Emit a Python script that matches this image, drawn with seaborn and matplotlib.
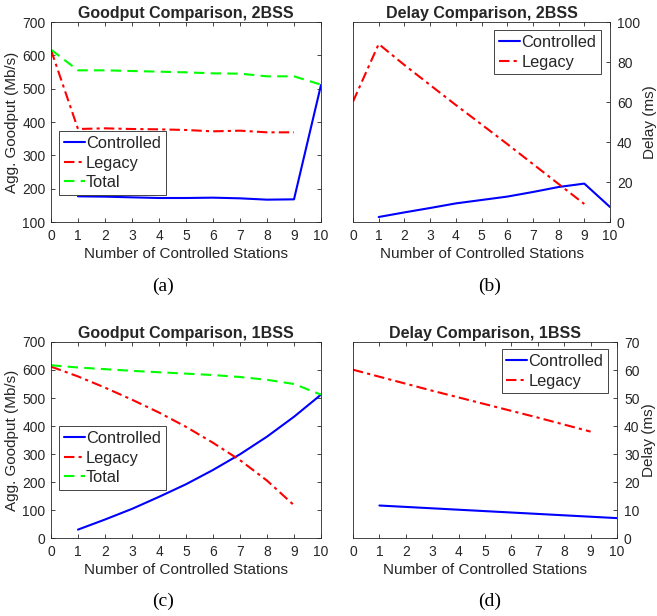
import numpy as np
import pandas as pd
import matplotlib
matplotlib.use("Agg")
import matplotlib.pyplot as plt
import seaborn as sns

sns.set_style("ticks")
plt.rcParams['font.family'] = ['Liberation Sans', 'DejaVu Sans']

# ---------------- data ----------------
stations = list(range(0, 11))
x_ctrl = list(range(1, 11))
x_leg = list(range(0, 10))

# (a) Goodput 2BSS
a_controlled = [177, 176, 174, 172, 172, 173, 171, 167, 168, 511]
a_legacy = [616, 379, 381, 379, 378, 376, 372, 374, 369, 369]
a_total = [617, 555, 555, 553, 551, 549, 546, 545, 537, 537, 512]

# (b) Delay 2BSS
b_controlled = [2.5, 4.8, 7.0, 9.3, 11.0, 12.7, 15.0, 17.5, 19.2, 7.5]
b_legacy = [60.2, 89.0, 78.5, 68.5, 58.5, 48.8, 39.0, 29.0, 19.0, 9.0]

# (c) Goodput 1BSS
c_controlled = [30, 66, 104, 147, 192, 243, 299, 362, 433, 512]
c_legacy = [612, 577, 537, 494, 448, 397, 340, 278, 205, 117]
c_total = [617, 609, 603, 597, 592, 587, 582, 575, 565, 550, 512]

# (d) Delay 1BSS
d_controlled = [11.6, 11.1, 10.6, 10.1, 9.6, 9.1, 8.6, 8.1, 7.6, 7.1]
d_legacy = [60.1, 57.6, 55.1, 52.6, 50.2, 47.8, 45.4, 43.0, 40.5, 38.0]

titles = ["Goodput Comparison, 2BSS", "Delay Comparison, 2BSS",
          "Goodput Comparison, 1BSS", "Delay Comparison, 1BSS"]
panel_labels = ["(a)", "(b)", "(c)", "(d)"]
xlabel = "Number of Controlled Stations"
goodput_label = "Agg. Goodput (Mb/s)"
delay_label = "Delay (ms)"
series_names = ["Controlled", "Legacy", "Total"]

BLUE = "#0000ff"
RED = "#ff0000"
GREEN = "#00ff00"
AXC = "#262626"

fig = plt.figure(figsize=(6.57, 6.16), dpi=100)
W, H = 657.0, 616.0

def add_ax(l, r, t, b):
    return fig.add_axes([l / W, 1 - b / H, (r - l) / W, (b - t) / H])

axA = add_ax(51, 321, 22, 222)
axB = add_ax(353, 610, 22, 222)
axC = add_ax(51, 321, 342, 538)
axD = add_ax(353, 617, 342, 538)

lw = 1.5
tick_fs = 10
label_fs = 11
title_fs = 11.5
leg_fs = 11.8

def style(ax, right=False):
    for s in ax.spines.values():
        s.set_visible(True)
        s.set_color(AXC)
        s.set_linewidth(0.6)
    ax.tick_params(direction='in', length=3, width=0.6, colors=AXC,
                   labelsize=tick_fs, top=True, bottom=True,
                   left=True, right=True)
    ax.tick_params(axis='x', pad=5)
    ax.tick_params(axis='y', pad=4)
    if right:
        ax.yaxis.tick_right()
        ax.yaxis.set_label_position("right")
        ax.tick_params(axis='y', left=False, right=True, labelleft=False,
                       labelright=True, pad=5)
    ax.set_xlim(0, 10)
    ax.set_xticks(stations)
    ax.set_xlabel(xlabel, fontsize=label_fs, color=AXC, labelpad=3)

def plot_series(ax, x, y, color, ls, name):
    df = pd.DataFrame({"x": x, "y": y})
    sns.lineplot(data=df, x="x", y="y", ax=ax, color=color, linestyle=ls,
                 linewidth=lw, label=name)

dashdot = (0, (5, 2, 1.5, 2))
dashed = (0, (5, 3))

# (a)
plot_series(axA, x_ctrl, a_controlled, BLUE, '-', series_names[0])
plot_series(axA, x_leg, a_legacy, RED, dashdot, series_names[1])
plot_series(axA, stations, a_total, GREEN, dashed, series_names[2])
style(axA)
axA.set_ylim(100, 700)
axA.set_yticks(range(100, 701, 100))
axA.set_ylabel(goodput_label, fontsize=label_fs, color=AXC)
axA.yaxis.set_label_coords((19 - 51) / 270, 0.5)

# (b)
plot_series(axB, x_ctrl, b_controlled, BLUE, '-', series_names[0])
plot_series(axB, x_leg, b_legacy, RED, dashdot, series_names[1])
style(axB, right=True)
axB.set_ylim(0, 100)
axB.set_yticks(range(0, 101, 20))
axB.set_ylabel(delay_label, fontsize=label_fs, color=AXC)
axB.yaxis.set_label_coords((643 - 353) / 257, 0.5)

# (c)
plot_series(axC, x_ctrl, c_controlled, BLUE, '-', series_names[0])
plot_series(axC, x_leg, c_legacy, RED, dashdot, series_names[1])
plot_series(axC, stations, c_total, GREEN, dashed, series_names[2])
style(axC)
axC.set_ylim(0, 700)
axC.set_yticks(range(0, 701, 100))
axC.set_ylabel(goodput_label, fontsize=label_fs, color=AXC)
axC.yaxis.set_label_coords((19 - 51) / 270, 0.5)

# (d)
plot_series(axD, x_ctrl, d_controlled, BLUE, '-', series_names[0])
plot_series(axD, x_leg, d_legacy, RED, dashdot, series_names[1])
style(axD, right=True)
axD.set_ylim(0, 70)
axD.set_yticks(range(0, 71, 10))
axD.set_ylabel(delay_label, fontsize=label_fs, color=AXC)
axD.yaxis.set_label_coords((642 - 353) / 264, 0.5)

for ax, t in zip([axA, axB, axC, axD], titles):
    ax.set_title(t, fontsize=title_fs, fontweight='bold', pad=3)

def legend(ax, loc, anchor):
    lg = ax.legend(loc=loc, bbox_to_anchor=anchor, fontsize=leg_fs,
                   handlelength=1.25, handletextpad=0.08, borderpad=0.3,
                   labelspacing=0.28, borderaxespad=0, fancybox=False,
                   framealpha=1, edgecolor=AXC)
    lg.get_frame().set_linewidth(0.6)

legend(axA, 'upper left', (0.03, 0.455))
legend(axB, 'upper right', (0.965, 0.96))
legend(axC, 'upper left', (0.03, 0.571))
legend(axD, 'upper right', (0.966, 0.964))

# panel labels
for (px, py), lab in zip([(163, 286), (490, 286), (163, 601), (490, 601)], panel_labels):
    fig.text(px / W, 1 - py / H, lab, ha='center', va='center',
             fontsize=14, family='Liberation Serif', color='black')

fig.savefig("out.png", dpi=100)
